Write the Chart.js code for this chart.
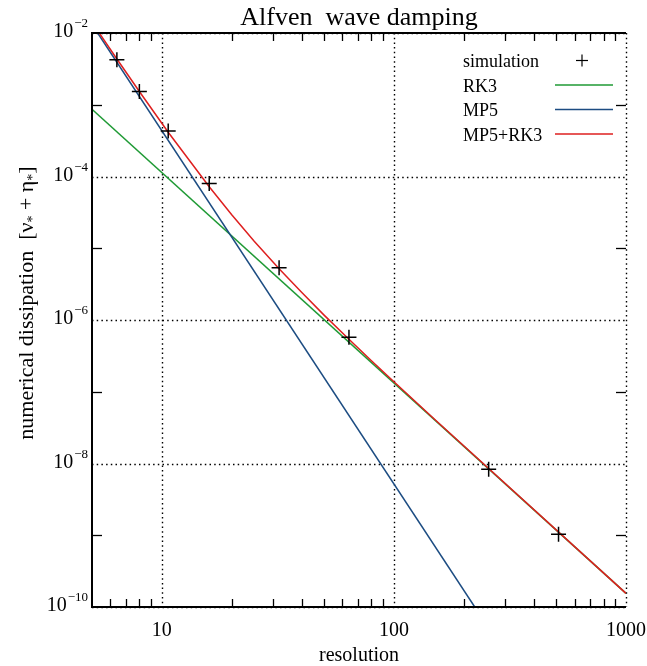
<!DOCTYPE html>
<html>
<head>
<meta charset="utf-8">
<title>Alfven wave damping</title>
<script src="https://cdn.jsdelivr.net/npm/chart.js@4/dist/chart.umd.min.js"></script>
<style>
  html, body { margin: 0; padding: 0; background: #fff; }
  #wrap { width: 647px; height: 666px; }
</style>
</head>
<body>
<div id="wrap"><canvas id="chart" width="647" height="666"></canvas></div>
<script>
// simulation points
const simRes = [6.4, 8, 10.65, 16, 32, 64, 256, 512];
const simDiss = [4.24e-3, 1.53e-3, 4.31e-4, 7.96e-5, 5.35e-6, 5.74e-7, 8.32e-9, 1.03e-9];

// RK3 (straight line in log-log)
const rk3Res = [5, 1000];
const rk3Diss = [8.65e-4, 1.55e-10];

// MP5 (straight line in log-log)
const mp5Res = [5.29, 223];
const mp5Diss = [1e-2, 1e-10];

// MP5+RK3 curve
const bothRes = [5, 6.4, 8, 10.65, 16, 20, 25, 32, 40, 50, 64, 80, 100, 150, 1000];
const bothDiss = [1.41e-2, 4.34e-3, 1.53e-3, 4.13e-4, 7.2e-5, 2.93e-5, 1.25e-5, 5.18e-6, 2.43e-6, 1.17e-6, 5.38e-7, 2.71e-7, 1.38e-7, 4.1e-8, 1.55e-10];

// axis ticks
const xMajor = [10, 100, 1000];
const xMinor = [6, 7, 8, 9, 20, 30, 40, 50, 60, 70, 80, 90, 200, 300, 400, 500, 600, 700, 800, 900];
const yMajorExp = [-2, -4, -6, -8, -10];
const yMinorExp = [-3, -5, -7, -9];

const GREEN = '#1f9a35';
const BLUE = '#1c4c82';
const RED = '#de1f1f';
const SERIF = '"Liberation Serif", "Times New Roman", serif';

function pairs(xs, ys) {
  return xs.map((x, i) => ({ x: x, y: ys[i] }));
}

function seg(ctx, x1, y1, x2, y2) {
  ctx.beginPath();
  ctx.moveTo(x1, y1);
  ctx.lineTo(x2, y2);
  ctx.stroke();
}

const gridPlugin = {
  id: 'gridPlugin',
  beforeDatasetsDraw(chart) {
    const { ctx, chartArea: a, scales: { x, y } } = chart;
    ctx.save();
    ctx.strokeStyle = '#000';
    ctx.lineWidth = 1.4;
    ctx.setLineDash([1.5, 3.2]);
    xMajor.forEach(v => {
      const px = Math.round(x.getPixelForValue(v)) + 0.5;
      seg(ctx, px, a.top, px, a.bottom);
    });
    yMajorExp.forEach(e => {
      const py = Math.round(y.getPixelForValue(Math.pow(10, e))) + 0.5;
      seg(ctx, a.left, py, a.right, py);
    });
    ctx.restore();
  }
};

function drawPow(ctx, exp, xRight, yMid) {
  const base = '10';
  const sup = '\u2212' + String(-exp);
  ctx.font = '20px ' + SERIF;
  const wb = ctx.measureText(base).width;
  ctx.font = '13px ' + SERIF;
  const ws = ctx.measureText(sup).width;
  const x0 = xRight - wb - ws - 1;
  ctx.textAlign = 'left';
  ctx.textBaseline = 'alphabetic';
  ctx.font = '20px ' + SERIF;
  ctx.fillText(base, x0, yMid + 4);
  ctx.font = '13px ' + SERIF;
  ctx.fillText(sup, x0 + wb + 1, yMid - 6);
}

const framePlugin = {
  id: 'framePlugin',
  afterDatasetsDraw(chart) {
    const { ctx, chartArea: a, scales: { x, y } } = chart;
    ctx.save();
    ctx.strokeStyle = '#000';
    ctx.fillStyle = '#000';

    // frame
    ctx.lineWidth = 2;
    seg(ctx, a.left, a.top, a.left, a.bottom + 1);
    seg(ctx, a.left - 1, a.bottom, a.right, a.bottom);
    seg(ctx, a.left - 1, a.top, a.right, a.top);

    // minor ticks
    ctx.lineWidth = 1.3;
    xMinor.forEach(v => {
      const px = Math.round(x.getPixelForValue(v)) + 0.5;
      seg(ctx, px, a.bottom, px, a.bottom - 8);
      seg(ctx, px, a.top, px, a.top + 8);
    });
    yMinorExp.forEach(e => {
      const py = Math.round(y.getPixelForValue(Math.pow(10, e))) + 0.5;
      seg(ctx, a.left, py, a.left + 10, py);
      seg(ctx, a.right, py, a.right - 10, py);
    });

    // x tick labels
    ctx.font = '20px ' + SERIF;
    ctx.textAlign = 'center';
    ctx.textBaseline = 'alphabetic';
    xMajor.forEach(v => {
      ctx.fillText(String(v), x.getPixelForValue(v), a.bottom + 29);
    });
    ctx.fillText('resolution', (a.left + a.right) / 2, a.bottom + 54);

    // y tick labels
    yMajorExp.forEach(e => {
      drawPow(ctx, e, 88, y.getPixelForValue(Math.pow(10, e)));
    });

    // y title with starred subscripts
    const parts = [
      ['numerical dissipation  [\u03bd', false],
      ['*', true],
      [' + \u03b7', false],
      ['*', true],
      [']', false]
    ];
    ctx.save();
    ctx.translate(33, 303);
    ctx.rotate(-Math.PI / 2);
    ctx.textAlign = 'left';
    let total = 0;
    parts.forEach(p => {
      ctx.font = (p[1] ? '14px ' : '22px ') + SERIF;
      total += ctx.measureText(p[0]).width;
    });
    let cx = -total / 2;
    parts.forEach(p => {
      ctx.font = (p[1] ? '14px ' : '22px ') + SERIF;
      ctx.fillText(p[0], cx, p[1] ? 4 : 0);
      cx += ctx.measureText(p[0]).width;
    });
    ctx.restore();

    // title
    ctx.font = '26px ' + SERIF;
    ctx.textAlign = 'center';
    ctx.fillText('Alfven  wave damping', (a.left + a.right) / 2, 25);

    // legend
    const items = [
      { label: 'simulation', color: null },
      { label: 'RK3', color: GREEN },
      { label: 'MP5', color: BLUE },
      { label: 'MP5+RK3', color: RED }
    ];
    ctx.font = '18px ' + SERIF;
    ctx.textAlign = 'left';
    items.forEach((it, i) => {
      const base = 67 + i * 24.5;
      ctx.fillStyle = '#000';
      ctx.fillText(it.label, 463, base);
      const ly = base - 6.5;
      if (it.color) {
        ctx.strokeStyle = it.color;
        ctx.lineWidth = 1.5;
        seg(ctx, 555, ly, 613, ly);
      } else {
        ctx.strokeStyle = '#000';
        ctx.lineWidth = 1.2;
        seg(ctx, 576, ly, 588, ly);
        seg(ctx, 582, ly - 6, 582, ly + 6);
      }
    });

    ctx.restore();
  }
};

new Chart(document.getElementById('chart'), {
  type: 'line',
  data: {
    datasets: [
      {
        label: 'simulation',
        data: pairs(simRes, simDiss),
        showLine: false,
        pointStyle: 'cross',
        pointRadius: 7.5,
        pointBorderWidth: 1.5,
        pointBorderColor: '#000',
        pointBackgroundColor: '#000'
      },
      {
        label: 'MP5+RK3',
        data: pairs(bothRes, bothDiss),
        borderColor: RED,
        borderWidth: 1.5,
        pointRadius: 0,
        tension: 0
      },
      {
        label: 'MP5',
        data: pairs(mp5Res, mp5Diss),
        borderColor: BLUE,
        borderWidth: 1.5,
        pointRadius: 0
      },
      {
        label: 'RK3',
        data: pairs(rk3Res, rk3Diss),
        borderColor: GREEN,
        borderWidth: 1.5,
        pointRadius: 0
      }
    ]
  },
  options: {
    responsive: false,
    animation: false,
    devicePixelRatio: 1,
    layout: { padding: { left: 92, right: 21, top: 33, bottom: 59 } },
    plugins: {
      legend: { display: false },
      tooltip: { enabled: false },
      title: { display: false }
    },
    scales: {
      x: { type: 'logarithmic', min: 5, max: 1000, display: false },
      y: { type: 'logarithmic', min: 1e-10, max: 1e-2, display: false }
    }
  },
  plugins: [gridPlugin, framePlugin]
});
</script>
</body>
</html>
